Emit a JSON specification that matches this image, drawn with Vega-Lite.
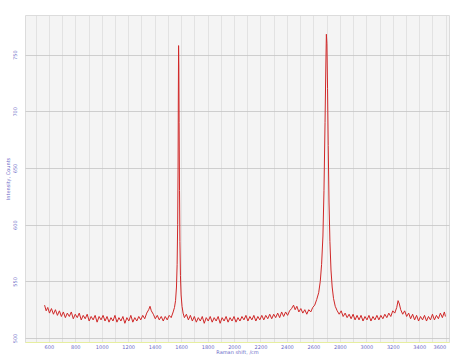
{
  "$schema": "https://vega.github.io/schema/vega-lite/v6.json",
  "width": 424,
  "height": 327,
  "autosize": "none",
  "padding": {"left": 25, "top": 15, "right": 2, "bottom": 14},
  "background": "#ffffff",
  "config": {
    "view": {"fill": "#f4f4f4", "stroke": "#dcdcdc", "strokeWidth": 1},
    "axis": {"labelFont": "DejaVu Sans", "titleFont": "DejaVu Sans", "labelColor": "#6a6ac8", "titleColor": "#6a6ac8", "labelFontSize": 5, "titleFontSize": 5, "titleFontWeight": "normal", "ticks": false}
  },
  "data": {"values": [
    {"shift":568,"counts":529},{"shift":580,"counts":524},{"shift":592,"counts":527},{"shift":605,"counts":522},{"shift":620,"counts":526},{"shift":635,"counts":521},{"shift":650,"counts":525},{"shift":665,"counts":520},{"shift":680,"counts":524},{"shift":695,"counts":519},{"shift":710,"counts":523},{"shift":725,"counts":518},{"shift":740,"counts":522},{"shift":755,"counts":519},{"shift":770,"counts":523},{"shift":785,"counts":517},{"shift":800,"counts":521},{"shift":815,"counts":518},{"shift":830,"counts":522},{"shift":845,"counts":516},{"shift":860,"counts":520},{"shift":875,"counts":517},{"shift":890,"counts":521},{"shift":905,"counts":515},{"shift":920,"counts":519},{"shift":935,"counts":516},{"shift":950,"counts":520},{"shift":965,"counts":514},{"shift":980,"counts":519},{"shift":995,"counts":516},{"shift":1010,"counts":520},{"shift":1025,"counts":515},{"shift":1040,"counts":519},{"shift":1055,"counts":514},{"shift":1070,"counts":518},{"shift":1085,"counts":515},{"shift":1100,"counts":520},{"shift":1115,"counts":514},{"shift":1130,"counts":518},{"shift":1145,"counts":515},{"shift":1160,"counts":519},{"shift":1175,"counts":513},{"shift":1190,"counts":518},{"shift":1205,"counts":515},{"shift":1220,"counts":520},{"shift":1235,"counts":514},{"shift":1250,"counts":518},{"shift":1265,"counts":515},{"shift":1280,"counts":519},{"shift":1295,"counts":516},{"shift":1310,"counts":520},{"shift":1325,"counts":517},{"shift":1340,"counts":522},{"shift":1355,"counts":525},{"shift":1365,"counts":528},{"shift":1375,"counts":524},{"shift":1390,"counts":521},{"shift":1405,"counts":517},{"shift":1420,"counts":520},{"shift":1435,"counts":516},{"shift":1450,"counts":519},{"shift":1465,"counts":515},{"shift":1480,"counts":519},{"shift":1495,"counts":516},{"shift":1510,"counts":520},{"shift":1525,"counts":518},{"shift":1540,"counts":523},{"shift":1550,"counts":527},{"shift":1558,"counts":533},{"shift":1565,"counts":545},{"shift":1570,"counts":565},{"shift":1574,"counts":600},{"shift":1577,"counts":650},{"shift":1579,"counts":710},{"shift":1581,"counts":758},{"shift":1583,"counts":740},{"shift":1585,"counts":690},{"shift":1588,"counts":630},{"shift":1591,"counts":585},{"shift":1595,"counts":555},{"shift":1600,"counts":538},{"shift":1607,"counts":528},{"shift":1615,"counts":522},{"shift":1625,"counts":518},{"shift":1640,"counts":521},{"shift":1655,"counts":516},{"shift":1670,"counts":520},{"shift":1685,"counts":515},{"shift":1700,"counts":519},{"shift":1715,"counts":514},{"shift":1730,"counts":518},{"shift":1745,"counts":515},{"shift":1760,"counts":519},{"shift":1775,"counts":513},{"shift":1790,"counts":518},{"shift":1805,"counts":515},{"shift":1820,"counts":519},{"shift":1835,"counts":514},{"shift":1850,"counts":518},{"shift":1865,"counts":515},{"shift":1880,"counts":519},{"shift":1895,"counts":513},{"shift":1910,"counts":518},{"shift":1925,"counts":515},{"shift":1940,"counts":519},{"shift":1955,"counts":514},{"shift":1970,"counts":518},{"shift":1985,"counts":515},{"shift":2000,"counts":519},{"shift":2015,"counts":514},{"shift":2030,"counts":518},{"shift":2045,"counts":515},{"shift":2060,"counts":519},{"shift":2075,"counts":516},{"shift":2090,"counts":520},{"shift":2105,"counts":515},{"shift":2120,"counts":519},{"shift":2135,"counts":516},{"shift":2150,"counts":520},{"shift":2165,"counts":515},{"shift":2180,"counts":519},{"shift":2195,"counts":516},{"shift":2210,"counts":520},{"shift":2225,"counts":516},{"shift":2240,"counts":520},{"shift":2255,"counts":517},{"shift":2270,"counts":521},{"shift":2285,"counts":517},{"shift":2300,"counts":521},{"shift":2315,"counts":518},{"shift":2330,"counts":522},{"shift":2345,"counts":518},{"shift":2360,"counts":523},{"shift":2375,"counts":519},{"shift":2390,"counts":523},{"shift":2405,"counts":520},{"shift":2420,"counts":524},{"shift":2435,"counts":526},{"shift":2450,"counts":529},{"shift":2462,"counts":525},{"shift":2475,"counts":528},{"shift":2490,"counts":523},{"shift":2505,"counts":526},{"shift":2520,"counts":522},{"shift":2535,"counts":525},{"shift":2550,"counts":521},{"shift":2565,"counts":525},{"shift":2580,"counts":523},{"shift":2595,"counts":527},{"shift":2610,"counts":529},{"shift":2625,"counts":534},{"shift":2640,"counts":540},{"shift":2652,"counts":550},{"shift":2662,"counts":565},{"shift":2672,"counts":590},{"shift":2680,"counts":630},{"shift":2688,"counts":690},{"shift":2694,"counts":740},{"shift":2698,"counts":768},{"shift":2702,"counts":760},{"shift":2707,"counts":720},{"shift":2712,"counts":670},{"shift":2718,"counts":620},{"shift":2725,"counts":585},{"shift":2733,"counts":560},{"shift":2742,"counts":545},{"shift":2752,"counts":535},{"shift":2765,"counts":528},{"shift":2780,"counts":524},{"shift":2795,"counts":521},{"shift":2810,"counts":524},{"shift":2825,"counts":519},{"shift":2840,"counts":522},{"shift":2855,"counts":518},{"shift":2870,"counts":521},{"shift":2885,"counts":517},{"shift":2900,"counts":521},{"shift":2915,"counts":516},{"shift":2930,"counts":520},{"shift":2945,"counts":516},{"shift":2960,"counts":520},{"shift":2975,"counts":515},{"shift":2990,"counts":519},{"shift":3005,"counts":516},{"shift":3020,"counts":520},{"shift":3035,"counts":515},{"shift":3050,"counts":519},{"shift":3065,"counts":516},{"shift":3080,"counts":520},{"shift":3095,"counts":516},{"shift":3110,"counts":520},{"shift":3125,"counts":517},{"shift":3140,"counts":521},{"shift":3155,"counts":518},{"shift":3170,"counts":522},{"shift":3185,"counts":519},{"shift":3200,"counts":524},{"shift":3215,"counts":522},{"shift":3230,"counts":527},{"shift":3240,"counts":533},{"shift":3250,"counts":530},{"shift":3260,"counts":525},{"shift":3275,"counts":521},{"shift":3290,"counts":524},{"shift":3305,"counts":519},{"shift":3320,"counts":522},{"shift":3335,"counts":517},{"shift":3350,"counts":521},{"shift":3365,"counts":516},{"shift":3380,"counts":520},{"shift":3395,"counts":515},{"shift":3410,"counts":519},{"shift":3425,"counts":516},{"shift":3440,"counts":520},{"shift":3455,"counts":515},{"shift":3470,"counts":519},{"shift":3485,"counts":516},{"shift":3500,"counts":521},{"shift":3515,"counts":516},{"shift":3530,"counts":520},{"shift":3545,"counts":517},{"shift":3560,"counts":522},{"shift":3575,"counts":518},{"shift":3590,"counts":523},{"shift":3598,"counts":519}
  ]},
  "mark": {"type": "line", "color": "#d02828", "strokeWidth": 1, "clip": true},
  "encoding": {
    "x": {
      "field": "shift", "type": "quantitative", "title": "Raman shift, /cm",
      "scale": {"domain": [420, 3625], "nice": false, "zero": false},
      "axis": {
        "values": [500,600,700,800,900,1000,1100,1200,1300,1400,1500,1600,1700,1800,1900,2000,2100,2200,2300,2400,2500,2600,2700,2800,2900,3000,3100,3200,3300,3400,3500,3600],
        "labelExpr": "datum.value % 200 == 0 && datum.value >= 600 ? datum.value : ''",
        "labelAlign": {"condition": {"test": "datum.value == 3600", "value": "right"}, "value": "center"},
        "gridColor": "#dadada", "gridWidth": 0.7,
        "domainColor": "#e6eea0", "domainWidth": 1,
        "labelPadding": 2, "titlePadding": 0, "labelFlush": false, "labelOverlap": false, "labelBound": false
      }
    },
    "y": {
      "field": "counts", "type": "quantitative", "title": "Intensity, Counts",
      "scale": {"domain": [496.5, 785], "nice": false, "zero": false},
      "axis": {
        "values": [500, 550, 600, 650, 700, 750],
        "labelAngle": -90, "labelAlign": "center", "labelBaseline": "bottom",
        "gridColor": "#c4c4c4", "gridWidth": 0.8,
        "domain": false, "labelPadding": 8, "titlePadding": 2, "labelFlush": false
      }
    }
  }
}
